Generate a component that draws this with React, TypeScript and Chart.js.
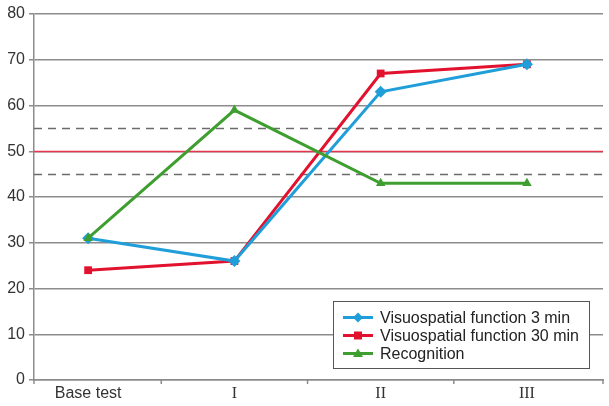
import React, { useEffect, useRef } from "react";
import { Chart, registerables } from "chart.js";

Chart.register(...registerables);

const categories = ["Base test", "I", "II", "III"];
const visuo3min = [31, 26, 63, 69];
const visuo30min = [24, 26, 67, 69];
const recognition = [31, 59, 43, 43];
const seriesNames = ["Visuospatial function 3 min", "Visuospatial function 30 min", "Recognition"];
const refSolid = 50;
const refDashed = [45, 55];
const yTicks = [0, 10, 20, 30, 40, 50, 60, 70, 80];

const BLUE = "#1f9ed9";
const RED = "#e2122f";
const GREEN = "#3e9e2f";
const SANS = "'Liberation Sans', Arial, sans-serif";
const SERIF = "'Liberation Serif', 'Times New Roman', serif";

const toPts = (arr: number[]) => arr.map((v, i) => ({ x: i, y: v }));

const refLinesPlugin = {
  id: "refLines",
  beforeDatasetsDraw(chart: any) {
    const { ctx, chartArea, scales } = chart;
    const y = scales.y;
    ctx.save();
    ctx.lineWidth = 1.5;
    ctx.strokeStyle = "#6b6b6b";
    ctx.setLineDash([8, 6]);
    refDashed.forEach((v) => {
      const py = Math.round(y.getPixelForValue(v)) + 0.5;
      ctx.beginPath();
      ctx.moveTo(chartArea.left, py);
      ctx.lineTo(chartArea.right, py);
      ctx.stroke();
    });
    ctx.setLineDash([]);
    ctx.strokeStyle = "#e3354d";
    const py = Math.round(y.getPixelForValue(refSolid)) + 0.5;
    ctx.beginPath();
    ctx.moveTo(chartArea.left, py);
    ctx.lineTo(chartArea.right, py);
    ctx.stroke();
    // x-axis tick marks between categories
    const x = scales.x;
    ctx.strokeStyle = "#8c8c8c";
    ctx.lineWidth = 1.5;
    const bottom = chartArea.bottom;
    [x.min, 0.5, 1.5, 2.5, x.max].forEach((v: number) => {
      const px = x.getPixelForValue(v);
      ctx.beginPath();
      ctx.moveTo(px, bottom);
      ctx.lineTo(px, bottom + 4);
      ctx.stroke();
    });
    ctx.restore();
  },
};

const legendPlugin = {
  id: "boxLegend",
  afterDatasetsDraw(chart: any) {
    const { ctx } = chart;
    const left = 333.5;
    const top = 301.5;
    const w = 256;
    const h = 67;
    ctx.save();
    ctx.fillStyle = "#ffffff";
    ctx.fillRect(left, top, w, h);
    ctx.strokeStyle = "#555555";
    ctx.lineWidth = 1;
    ctx.strokeRect(left, top, w, h);
    const colors = [BLUE, RED, GREEN];
    const styles = ["rectRot", "rect", "triangle"];
    ctx.font = `16px ${SANS}`;
    ctx.textBaseline = "middle";
    seriesNames.forEach((name, i) => {
      const cy = top + 16 + i * 18;
      ctx.strokeStyle = colors[i];
      ctx.lineWidth = 3;
      ctx.beginPath();
      ctx.moveTo(343, cy);
      ctx.lineTo(373, cy);
      ctx.stroke();
      ctx.fillStyle = colors[i];
      (Chart as any).helpers
        ? null
        : null;
      drawMarker(ctx, styles[i], 358, cy, 5, colors[i]);
      ctx.fillStyle = "#222222";
      ctx.fillText(name, 380, cy + 1);
    });
    ctx.restore();
  },
};

function drawMarker(ctx: CanvasRenderingContext2D, style: string, x: number, y: number, r: number, color: string) {
  ctx.save();
  ctx.fillStyle = color;
  ctx.beginPath();
  if (style === "rectRot") {
    ctx.moveTo(x, y - r);
    ctx.lineTo(x + r, y);
    ctx.lineTo(x, y + r);
    ctx.lineTo(x - r, y);
  } else if (style === "rect") {
    ctx.rect(x - r * 0.8, y - r * 0.8, r * 1.6, r * 1.6);
  } else {
    ctx.moveTo(x, y - r);
    ctx.lineTo(x + r, y + r * 0.7);
    ctx.lineTo(x - r, y + r * 0.7);
  }
  ctx.closePath();
  ctx.fill();
  ctx.restore();
}

export default function App() {
  const ref = useRef<HTMLCanvasElement | null>(null);
  useEffect(() => {
    document.body.style.margin = "0";
    const mk = (label: string, data: number[], color: string, style: string, radius: number) => ({
      label,
      data: toPts(data),
      borderColor: color,
      backgroundColor: color,
      borderWidth: 3,
      pointStyle: style,
      pointRadius: radius,
      pointBorderWidth: 0,
      pointBackgroundColor: color,
      tension: 0,
    });
    const chart = new Chart(ref.current as HTMLCanvasElement, {
      type: "line",
      data: {
        datasets: [
          mk(seriesNames[2], recognition, GREEN, "triangle", 5.5),
          mk(seriesNames[0], visuo3min, BLUE, "rectRot", 6),
          mk(seriesNames[1], visuo30min, RED, "rect", 5.5),
        ],
      },
      options: {
        animation: false,
        responsive: false,
        maintainAspectRatio: false,
        layout: { padding: { top: 14, right: 4, left: 0, bottom: 0 } },
        plugins: { legend: { display: false }, tooltip: { enabled: false } },
        scales: {
          x: {
            type: "linear",
            min: -0.37,
            max: 3.52,
            afterBuildTicks: (s: any) => {
              s.ticks = categories.map((_, i) => ({ value: i }));
            },
            afterFit: (s: any) => {
              s.height = 26;
            },
            grid: { display: false, drawTicks: false },
            border: { display: true, color: "#8c8c8c", width: 1.5 },
            ticks: {
              padding: 4,
              color: "#333333",
              autoSkip: false,
              maxRotation: 0,
              font: (c: any) =>
                c.index === 0 ? { family: SANS, size: 16 } : { family: SERIF, size: 16 },
              callback: (v: any) => categories[v] ?? "",
            },
          },
          y: {
            min: 0,
            max: 80,
            afterBuildTicks: (s: any) => {
              s.ticks = yTicks.map((v) => ({ value: v }));
            },
            afterFit: (s: any) => {
              s.width = 34;
            },
            grid: { color: "#8c8c8c", lineWidth: 1.5, tickLength: 5, drawTicks: true },
            border: { display: true, color: "#8c8c8c", width: 1.5 },
            ticks: {
              padding: 4,
              color: "#333333",
              font: { family: SANS, size: 16 },
            },
          },
        },
      },
      plugins: [refLinesPlugin, legendPlugin],
    } as any);
    return () => chart.destroy();
  }, []);
  return (
    <div style={{ position: "absolute", left: 0, top: 0, width: 609, height: 406 }}>
      <canvas ref={ref} width={609} height={406} style={{ display: "block" }} />
    </div>
  );
}
